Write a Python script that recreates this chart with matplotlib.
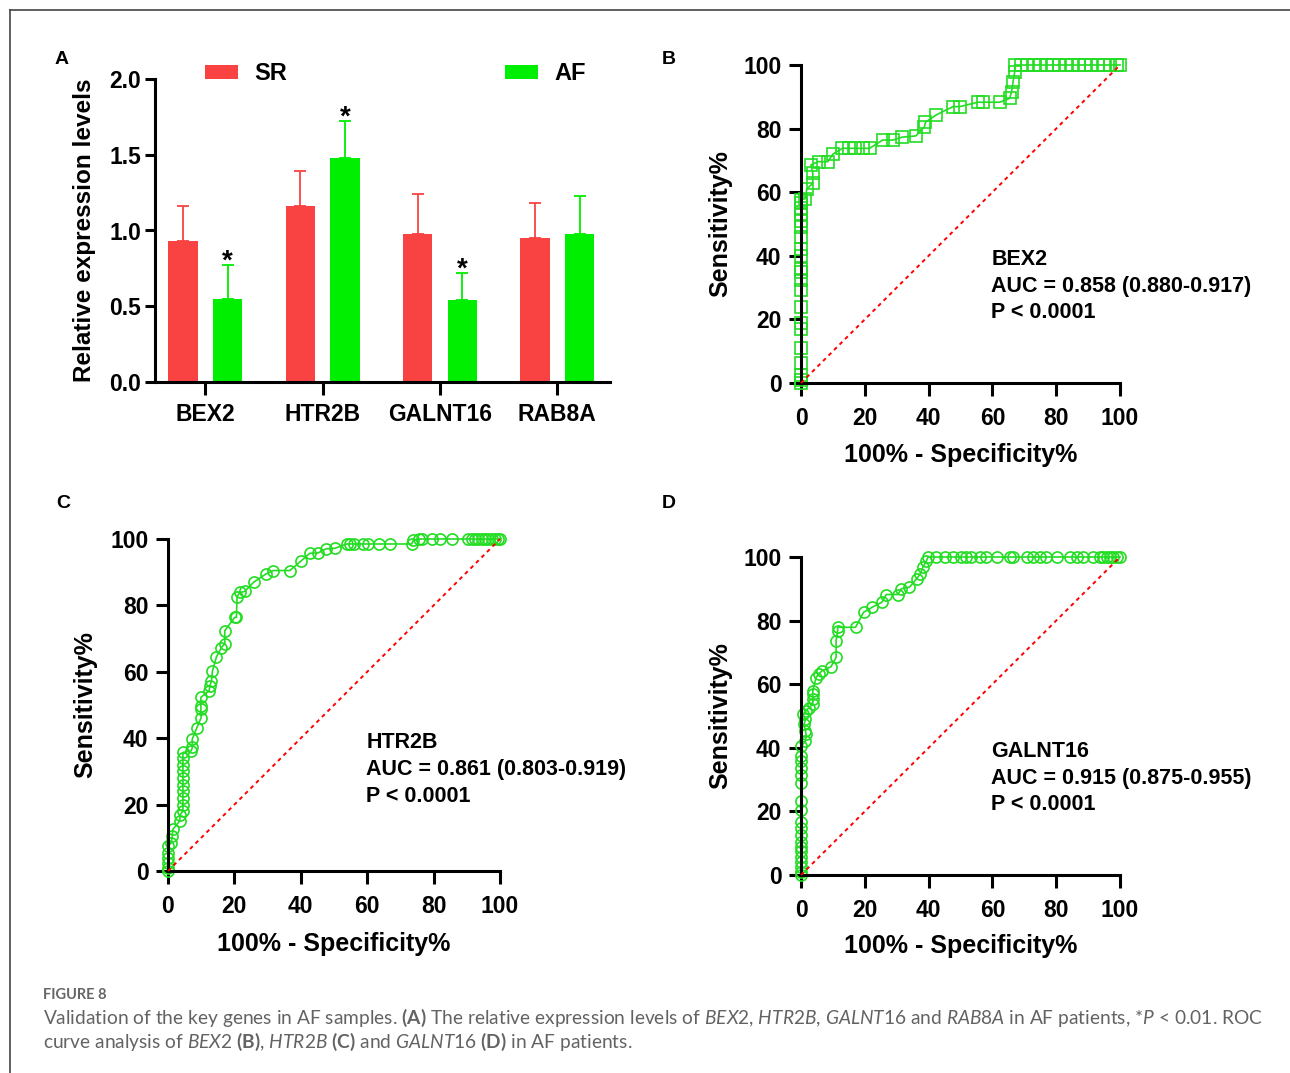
import numpy as np
import matplotlib
matplotlib.use("Agg")
import matplotlib.pyplot as plt
from matplotlib.lines import Line2D

plt.rcParams["font.family"] = ["Liberation Sans", "DejaVu Sans"]
plt.rcParams["font.weight"] = "bold"
plt.rcParams["mathtext.fontset"] = "custom"
plt.rcParams["mathtext.rm"] = "Lato:weight=normal"
plt.rcParams["mathtext.it"] = "Lato:style=italic:weight=normal"
plt.rcParams["mathtext.bf"] = "Lato:weight=bold"

# ---- panel A: qPCR bars ----
genes = ["BEX2", "HTR2B", "GALNT16", "RAB8A"]
sr_mean = [0.93, 1.16, 0.98, 0.95]
sr_sd = [0.23, 0.23, 0.26, 0.23]
af_mean = [0.55, 1.48, 0.54, 0.98]
af_sd = [0.22, 0.24, 0.18, 0.25]
af_signif = [True, True, True, False]

# ---- ROC curves (100% - specificity, sensitivity) ----
bex2_fpr = [0, 0, 0, 0, 0, 0, 0, 0, 0, 0, 0, 0, 0, 0, 0, 0, 0, 0, 0, 0, 0,
            1.4, 1.8, 3.7, 3.7, 3.1, 5.5, 8.4, 10, 13, 15, 17, 19.5, 21.5,
            25.6, 28.8, 31.7, 36, 38.7, 39, 42.4, 47.6, 49.7, 55.5, 57, 62.3,
            65.4, 66, 66.5, 67, 67, 69, 71, 73, 75, 77, 79, 81, 83, 85, 87,
            89, 91, 93, 95, 97, 99, 100]
bex2_tpr = [0, 1, 2.6, 6.3, 11, 17, 19, 24, 29.3, 32.5, 35, 36, 40, 42, 46,
            49, 51, 53, 55, 56.5, 57.6, 58, 61, 62.8, 66, 68.6, 69.6, 69.6,
            72, 73.8, 73.8, 73.8, 73.8, 73.8, 76.4, 76.4, 77.3, 77.7, 80.6,
            82, 84.3, 86.9, 86.9, 88.3, 88.3, 88.3, 89.5, 91.6, 94.8, 97.9,
            100, 100, 100, 100, 100, 100, 100, 100, 100, 100, 100, 100, 100,
            100, 100, 100, 100, 100]

htr2b_fpr = [0, 0, 0, 0, 0, 0, 1, 1.3, 1.5, 3.5, 3.7, 4.5, 4.5, 4.5, 4.5,
             4.5, 4.5, 4.5, 4.5, 4.5, 4.5, 7, 7.3, 7.3, 8.7, 10, 9.9, 9.9,
             9.9, 12.4, 12.6, 13.1, 13.4, 14.6, 16.1, 17.1, 17.1, 20.1, 20.6,
             20.8, 21.6, 23.1, 25.8, 29.4, 31.7, 36.7, 40.2, 42.7, 45.2, 47.5,
             50.3, 53.8, 54.8, 56, 58.8, 60.3, 63.6, 66.8, 73.4, 73.9, 75.7,
             76.4, 79.4, 81.9, 85.4, 90.5, 91.5, 92.5, 93.5, 94.5, 95.5, 96.5,
             97.5, 98.5, 99.5, 100]
htr2b_tpr = [0, 1, 2.5, 4, 5.5, 7.5, 8.5, 10.5, 12.6, 15, 17, 18, 20, 22, 24,
             26, 28, 30, 32, 34, 35.7, 36.2, 37.2, 39.7, 43.2, 46.2, 48.7,
             49.7, 52.3, 54.3, 55.8, 57.3, 60.3, 64.5, 67.3, 68.5, 72.4, 76.4,
             76.4, 82.6, 83.9, 84.2, 87, 89.4, 90.5, 90.5, 93.5, 95.7, 95.8,
             97, 97.2, 98.5, 98.5, 98.5, 98.5, 98.5, 98.5, 98.5, 98.5, 99.7,
             100, 100, 100, 100, 100, 100, 100, 100, 100, 100, 100, 100, 100,
             100, 100, 100]

galnt16_fpr = [0, 0, 0, 0, 0, 0, 0, 0, 0, 0, 0, 0, 0, 0, 0, 0, 0, 0, 0,
               1.4, 1.6, 1.4, 1, 1.4, 0.5, 1.6, 2.4, 3.7, 3.7, 3.7, 3.7, 4.7,
               5.5, 6.6, 9.4, 11, 11, 11.5, 11.5, 17.1, 19.6, 22.3, 25.4, 26.7,
               30.4, 31.4, 34, 36.3, 37.4, 38.2, 39.3, 39.8, 42.4, 45, 47.6,
               50.3, 51.8, 53.4, 56, 58.1, 61.3, 65.4, 66.5, 70.7, 72.8, 74.9,
               76.9, 80.1, 84.3, 86.4, 88.5, 91.6, 93.7, 94.8, 95.8, 96.9, 97.9,
               99, 100]
galnt16_tpr = [0, 1, 2.6, 4.2, 5.8, 7.4, 8.9, 10.5, 12.6, 14.7, 16.8, 20.5,
               23.2, 29, 31.6, 33.7, 35.8, 37.4, 40.5, 42, 44.2, 45.3, 47.4,
               49, 50.5, 51.6, 52.6, 53.7, 55.3, 56.8, 57.9, 62, 63.2, 64.2,
               65.5, 68.4, 73.7, 76.8, 77.9, 77.9, 82.6, 84.2, 85.8, 88.2, 88.2,
               90, 90.5, 93.2, 94.7, 96.8, 98.7, 100, 100, 100, 100, 100, 100,
               100, 100, 100, 100, 100, 100, 100, 100, 100, 100, 100, 100, 100,
               100, 100, 100, 100, 100, 100, 100, 100, 100]

roc_stats = {
    "BEX2": "AUC = 0.858 (0.880-0.917)",
    "HTR2B": "AUC = 0.861 (0.803-0.919)",
    "GALNT16": "AUC = 0.915 (0.875-0.955)",
}

red = "#F94343"
green = "#00EE00"
roc_green = "#22DD22"
W, H = 1290, 1073

fig = plt.figure(figsize=(W / 100, H / 100), dpi=100)


def px_axes(left, top, right, bottom):
    return fig.add_axes([left / W, 1 - bottom / H, (right - left) / W, (bottom - top) / H])


def style_axes(ax):
    for s in ["top", "right"]:
        ax.spines[s].set_visible(False)
    for s in ["left", "bottom"]:
        ax.spines[s].set_linewidth(2.2)
    ax.tick_params(width=2.2, length=8, pad=4, labelsize=16.5)
    for lab in ax.get_xticklabels() + ax.get_yticklabels():
        lab.set_fontweight("bold")


# ---- A ----
axA = px_axes(155, 79, 610, 382)
x = np.arange(len(genes))
off, bw = 0.19, 0.25
ekw = dict(elinewidth=1.3, capthick=1.3, capsize=4.3)
b1 = axA.bar(x - off, sr_mean, bw, color=red, label="SR",
             yerr=[np.zeros(4), sr_sd], error_kw=dict(ecolor=red, **ekw))
b2 = axA.bar(x + off, af_mean, bw, color=green, label="AF",
             yerr=[np.zeros(4), af_sd], error_kw=dict(ecolor=green, **ekw))
for i, sig in enumerate(af_signif):
    if sig:
        axA.annotate("*", (x[i] + off, af_mean[i] + af_sd[i]), xytext=(0, -2.5),
                     textcoords="offset points", ha="center", va="baseline",
                     fontsize=20, fontweight="bold")
axA.set_xlim(-0.43, 3.45)
axA.set_ylim(0, 2.0)
axA.set_yticks([0, 0.5, 1.0, 1.5, 2.0])
axA.set_yticklabels(["0.0", "0.5", "1.0", "1.5", "2.0"])
axA.set_xticks(x)
axA.set_xticklabels(genes)
style_axes(axA)
axA.tick_params(axis="y", length=7, pad=3)
axA.tick_params(axis="x", length=9, pad=6)
axA.set_ylabel("Relative expression levels", fontsize=17.5, fontweight="bold", va="center")
axA.yaxis.set_label_coords((85 - 155) / 455, 0.5)
axA.legend(handles=[b1, b2], labels=["SR", "AF"], ncol=2, frameon=False,
           loc="center left", bbox_to_anchor=(205 / W, 1 - 74 / H),
           bbox_transform=fig.transFigure, borderpad=0, borderaxespad=0,
           prop=dict(size=17, weight="bold"), handlelength=1.4,
           handleheight=0.55, handletextpad=0.7, columnspacing=9.2)


# ---- ROC panels ----
def roc_panel(box, fpr, tpr, marker, gene, ylab_x, xlab_y):
    left, top, right, bottom = box
    ax = px_axes(left, top, right, bottom)
    ax.plot([0, 100], [0, 100], color="red", ls=(0, (2, 2)), lw=1.4, clip_on=False, zorder=3)
    ax.plot(fpr, tpr, "-", color=roc_green, lw=1.2, marker=marker, ms=8.5 if marker == "s" else 8,
            mfc="none", mec=roc_green, mew=1.2, clip_on=False, zorder=2)
    ax.set_xlim(0, 100)
    ax.set_ylim(0, 100)
    ax.set_xticks(range(0, 101, 20))
    ax.set_yticks(range(0, 101, 20))
    style_axes(ax)
    ax.tick_params(length=9, pad=5)
    ax.tick_params(axis="x", pad=8)
    ax.set_xlabel("100% - Specificity%", fontsize=18, fontweight="bold", va="center")
    ax.xaxis.set_label_coords(0.5, (bottom - xlab_y) / (bottom - top))
    ax.set_ylabel("Sensitivity%", fontsize=18, fontweight="bold", va="center")
    ax.yaxis.set_label_coords((ylab_x - left) / (right - left), 0.5)
    ax.text(59.7, 30.5, gene + "\n" + roc_stats[gene] + "\nP < 0.0001",
            fontsize=15.5, fontweight="bold", va="center", ha="left", linespacing=1.36)
    return ax


roc_panel((801, 65, 1120, 383), bex2_fpr, bex2_tpr, "s", "BEX2", 720, 455)
roc_panel((168, 539, 500, 871), htr2b_fpr, htr2b_tpr, "o", "HTR2B", 85, 944)
roc_panel((801, 557, 1120, 875), galnt16_fpr, galnt16_tpr, "o", "GALNT16", 720, 946)

# panel letters
for letter, (px, py) in zip("ABCD", [(62, 60), (669, 60), (63, 503), (669, 503)]):
    fig.text(px / W, 1 - py / H, letter, fontsize=14, fontweight="bold", ha="center", va="center")

# frame lines of the figure box
fig.add_artist(Line2D([10 / W, 10 / W], [0, 1 - 10 / H], color="#444444", lw=1.2))
fig.add_artist(Line2D([10 / W, 1], [1 - 10 / H, 1 - 10 / H], color="#444444", lw=1.2))

# caption
fig.text(43 / W, 1 - 995 / H, "FIGURE 8", fontsize=10.5, fontweight="bold",
         family="Lato", color="#666666", va="center")
line1 = (r"Validation of the key genes in AF samples. $\mathbf{(A)}$ The relative expression "
         r"levels of $\mathit{BEX2}$, $\mathit{HTR2B}$, $\mathit{GALNT16}$ and $\mathit{RAB8A}$ "
         r"in AF patients, *$\mathit{P}$ < 0.01. ROC")
line2 = (r"curve analysis of $\mathit{BEX2}$ $\mathbf{(B)}$, $\mathit{HTR2B}$ $\mathbf{(C)}$ "
         r"and $\mathit{GALNT16}$ $\mathbf{(D)}$ in AF patients.")
t1 = fig.text(43 / W, 1 - 1018 / H, line1, fontsize=13, fontweight="normal",
              family="Lato", color="#636363", va="center")
t2 = fig.text(43 / W, 1 - 1042 / H, line2, fontsize=13, fontweight="normal",
              family="Lato", color="#636363", va="center")
fig.canvas.draw()
w = t1.get_window_extent().width
size = 13 * (1260 - 43) / w
t1.set_fontsize(size)
t2.set_fontsize(size)

fig.savefig("out.png", dpi=100)
